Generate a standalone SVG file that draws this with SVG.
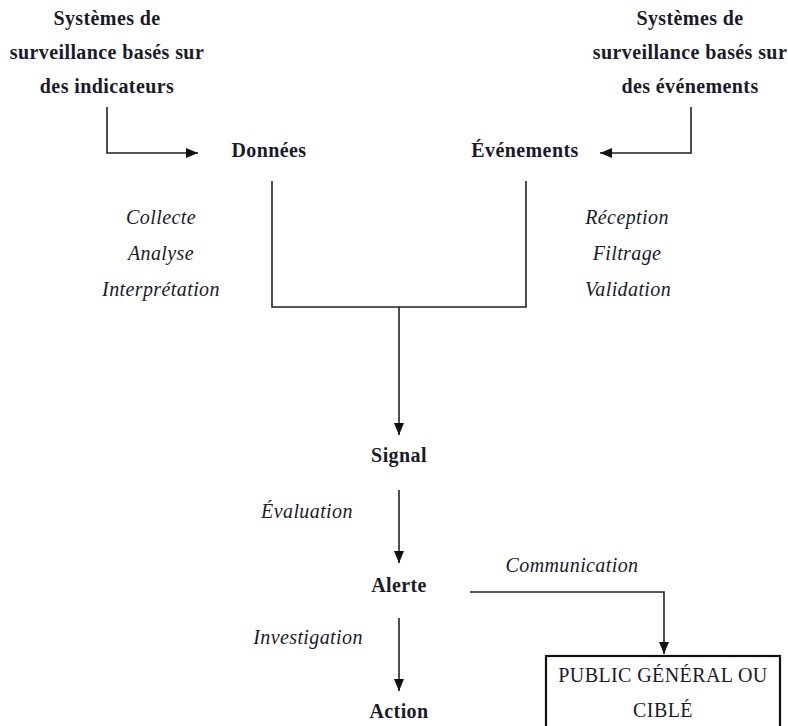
<svg xmlns="http://www.w3.org/2000/svg" width="788" height="726" viewBox="0 0 788 726">
<defs>
<marker id="ah" markerWidth="12" markerHeight="10" refX="12" refY="5" orient="auto" markerUnits="userSpaceOnUse">
<path d="M0,0 L12,5 L0,10 Z" fill="#111"/>
</marker>
<style>
text{font-family:"Liberation Serif","Times New Roman",serif;font-size:20px;fill:#1a1a2a;text-anchor:middle;letter-spacing:0.4px}
.b{font-weight:bold}
.i{font-style:italic}
.ln{fill:none;stroke:#222;stroke-width:1.6}
.ar{fill:none;stroke:#222;stroke-width:1.6;marker-end:url(#ah)}
</style>
</defs>
<rect width="788" height="726" fill="#fff"/>
<g id="src-indicateurs">
<text class="b" x="107" y="25">Systèmes de</text>
<text class="b" x="107" y="59">surveillance basés sur</text>
<text class="b" x="107" y="93">des indicateurs</text>
</g>
<g id="src-evenements">
<text class="b" x="690" y="25">Systèmes de</text>
<text class="b" x="690" y="59">surveillance basés sur</text>
<text class="b" x="690" y="93">des événements</text>
</g>
<g id="donnees">
<text class="b" x="269" y="157">Données</text>
</g>
<g id="evenements">
<text class="b" x="525" y="157">Événements</text>
</g>
<g id="labels-donnees">
<text class="i" x="161" y="224">Collecte</text>
<text class="i" x="161" y="260">Analyse</text>
<text class="i" x="161" y="296">Interprétation</text>
</g>
<g id="labels-evenements">
<text class="i" x="627" y="224">Réception</text>
<text class="i" x="627" y="260">Filtrage</text>
<text class="i" x="628" y="296">Validation</text>
</g>
<g id="signal">
<text class="b" x="399" y="462">Signal</text>
</g>
<g id="alerte">
<text class="b" x="399" y="592">Alerte</text>
</g>
<g id="action">
<text class="b" x="399" y="718">Action</text>
</g>
<g id="public">
<rect x="546" y="656" width="234" height="80" fill="none" stroke="#111" stroke-width="2.2"/>
<text x="663" y="682">PUBLIC GÉNÉRAL OU</text>
<text x="663" y="717">CIBLÉ</text>
</g>
<g id="connectors">
<path class="ar" d="M107,107 V153 H198"/>
<path class="ar" d="M691,107 V153 H600"/>
<path class="ln" d="M272,181 V307 H526 V181"/>
<path class="ar" d="M399,307 V435"/>
<path class="ar" d="M399,490 V563"/>
<path class="ar" d="M399,618 V691"/>
<path class="ar" d="M470,592 H664 V654"/>
<text class="i" x="307" y="518">Évaluation</text>
<text class="i" x="308" y="644">Investigation</text>
<text class="i" x="572" y="572">Communication</text>
</g>
</svg>
